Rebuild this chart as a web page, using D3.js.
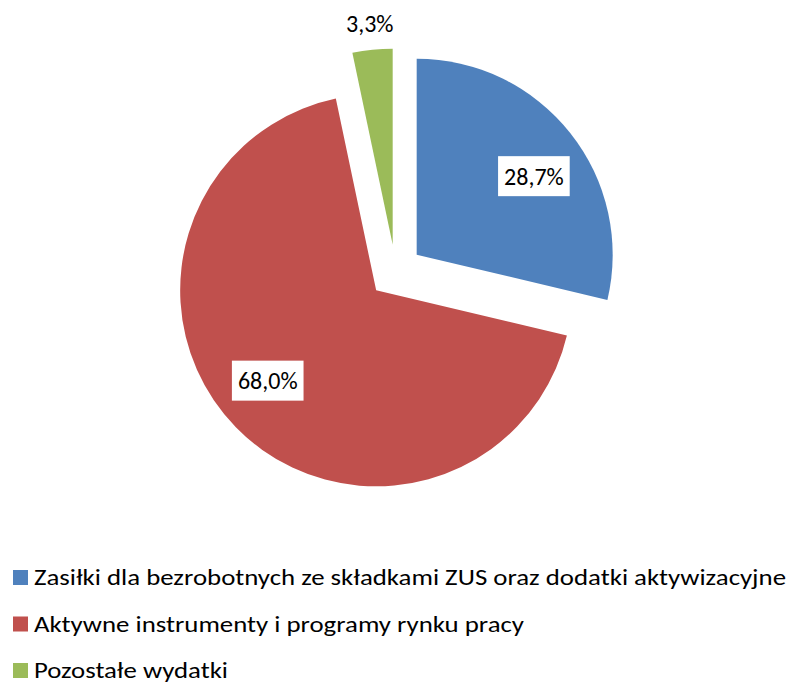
<!DOCTYPE html>
<html>
<head>
<meta charset="utf-8">
<script src="https://cdn.jsdelivr.net/npm/d3@7"></script>
<style>
  body { margin: 0; background: #fff; }
  svg { display: block; font-family: Carlito, Calibri, Lato, "Open Sans", sans-serif; }
</style>
</head>
<body>
<svg id="svg01" width="790" height="684"></svg>
<script>
const categories = [
  "Zasiłki dla bezrobotnych ze składkami ZUS oraz dodatki aktywizacyjne",
  "Aktywne instrumenty i programy rynku pracy",
  "Pozostałe wydatki"
]
const values = [28.7, 68.0, 3.3]
const labels = ["28,7%", "68,0%", "3,3%"]
const colors = ["#4F81BD", "#C0504D", "#9BBB59"]

const width = 790, height = 684
const cx = 395.5, cy = 271.5, r = 196, explode = 27

const svg = d3.select("#svg01")

const pie = d3.pie().sort(null).value(d => d)
const arcs = pie(values)

const arc = d3.arc().innerRadius(0).outerRadius(r)

const g_ = svg.append("g").attr("transform", `translate(${cx},${cy})`)

const slice = g_.selectAll("g.slice")
  .data(arcs)
  .join("g")
  .attr("class", "slice")
  .attr("transform", d => {
    const a = (d.startAngle + d.endAngle) / 2
    return `translate(${Math.sin(a) * explode},${-Math.cos(a) * explode})`
  })

slice.append("path")
  .attr("d", arc)
  .attr("fill", (d, i) => colors[i])

// labels: inside for big slices (best fit), outside end for small one
const labelShift = 4.5 * Math.PI / 180
slice.each(function(d, i) {
  const s = d3.select(this)
  const a = (d.startAngle + d.endAngle) / 2
  const inside = (d.endAngle - d.startAngle) > 0.5
  const lr = inside ? r * 0.72 : r + 26
  const la = inside ? a + labelShift : a
  const x = Math.sin(la) * lr
  const y = -Math.cos(la) * lr
  const t = s.append("text")
    .attr("x", x).attr("y", y)
    .attr("text-anchor", "middle")
    .attr("dominant-baseline", "central")
    .attr("font-size", 24)
    .attr("fill", "#000")
    .text(labels[i])
  if (inside) {
    const bb = t.node().getBBox()
    s.insert("rect", "text")
      .attr("x", bb.x - 6).attr("y", y - 20)
      .attr("width", bb.width + 12).attr("height", 40)
      .attr("fill", "#fff")
  }
})

// legend
const legendTop = 577, legendStep = 46.5
const lg = svg.append("g")
  .selectAll("g")
  .data(categories)
  .join("g")
  .attr("transform", (d, i) => `translate(0,${legendTop + i * legendStep})`)

lg.append("rect")
  .attr("x", 13).attr("y", -7)
  .attr("width", 15).attr("height", 15)
  .attr("fill", (d, i) => colors[i])

const legendWidths = [752, 490, 194]
lg.append("text")
  .attr("x", 34).attr("y", 8)
  .attr("font-size", 23)
  .attr("fill", "#000")
  .attr("textLength", (d, i) => legendWidths[i])
  .attr("lengthAdjust", "spacingAndGlyphs")
  .text(d => d)
</script>
</body>
</html>
